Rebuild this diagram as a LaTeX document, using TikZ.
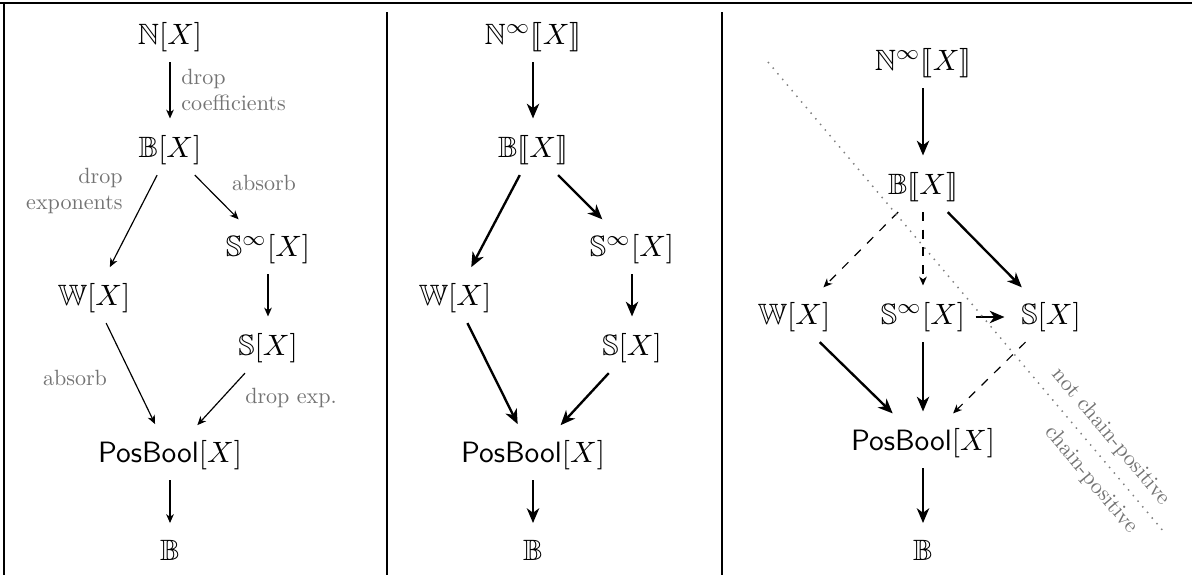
\documentclass[tikz,border=0pt]{standalone}
\usepackage{amssymb}
\usepackage{stmaryrd}
\usetikzlibrary{arrows.meta}

% one unit = one pixel of the finished image, y pointing down
\tikzset{
  x=0.34pt, y=-0.34pt,
  obj/.style={inner sep=3.33pt},
  lbl/.style={text=black!55, scale=0.75, inner sep=0pt},
  thinarr/.style={-{Stealth[length=3pt, width=2.6pt, inset=0.9pt]}, shorten >=2.2pt},
  boldarr/.style={-{Stealth[length=5pt, width=4.2pt, inset=1.5pt]}, thick, shorten >=2.2pt},
  dasharr/.style={-{Stealth[length=3pt, width=2.6pt, inset=0.9pt]}, dashed, shorten >=2.2pt},
  frame/.style={line width=0.4pt},
  border/.style={black!50, line width=0.5pt, dotted},
}

\begin{document}
\begin{tikzpicture}
\useasboundingbox (0,0) rectangle (1192,575);

% table rules
\draw[frame] (0,3) -- (1192,3);
\draw[frame] (4,3) -- (4,575);
\draw[frame] (387,12) -- (387,575);
\draw[frame] (722,12) -- (722,575);

% ---------- polynomials ----------
\node[obj] (lN)   at (170,37)  {$\mathbb{N}[X]$};
\node[obj] (lB)   at (170,150) {$\mathbb{B}[X]$};
\node[obj] (lSi)  at (268,249) {$\mathbb{S}^\infty[X]$};
\node[obj] (lW)   at (94,298)  {$\mathbb{W}[X]$};
\node[obj] (lS)   at (268,348) {$\mathbb{S}[X]$};
\node[obj] (lP)   at (170,455) {$\mathsf{PosBool}[X]$};
\node[obj] (lOne) at (170,550) {$\mathbb{B}$};

\draw[thinarr] (lN) -- (lB);
\draw[thinarr] (lB) -- (lW);
\draw[thinarr] (lB) -- (lSi);
\draw[thinarr] (lSi) -- (lS);
\draw[thinarr] (lW) -- (lP);
\draw[thinarr] (lS) -- (lP);
\draw[thinarr] (lP) -- (lOne);

\node[lbl, align=left, anchor=west]  (cDropCoef) at (181,90)  {drop\\coefficients};
\node[lbl, align=right, anchor=east] (cDropExp)  at (123,191) {drop\\exponents};
\node[lbl] (cAbsA) at (264,183) {absorb};
\node[lbl] (cAbsB) at (75,378)  {absorb};
\node[lbl] (cExp)  at (291,398) {drop exp.};

% ---------- power series ----------
\node[obj] (mN)   at (533,37)  {$\mathbb{N}^\infty\llbracket X\rrbracket$};
\node[obj] (mB)   at (533,150) {$\mathbb{B}\llbracket X\rrbracket$};
\node[obj] (mSi)  at (632,249) {$\mathbb{S}^\infty[X]$};
\node[obj] (mW)   at (455,298) {$\mathbb{W}[X]$};
\node[obj] (mS)   at (632,348) {$\mathbb{S}[X]$};
\node[obj] (mP)   at (533,455) {$\mathsf{PosBool}[X]$};
\node[obj] (mOne) at (533,550) {$\mathbb{B}$};

\draw[boldarr] (mN) -- (mB);
\draw[boldarr] (mB) -- (mW);
\draw[boldarr] (mB) -- (mSi);
\draw[boldarr] (mSi) -- (mS);
\draw[boldarr] (mW) -- (mP);
\draw[boldarr] (mS) -- (mP);
\draw[boldarr] (mP) -- (mOne);

% ---------- chain-positivity ----------
\node[obj] (rN)   at (923,63)  {$\mathbb{N}^\infty\llbracket X\rrbracket$};
\node[obj] (rB)   at (923,187) {$\mathbb{B}\llbracket X\rrbracket$};
\node[obj] (rW)   at (794,317) {$\mathbb{W}[X]$};
\node[obj] (rSi)  at (923,317) {$\mathbb{S}^\infty[X]$};
\node[obj] (rS)   at (1051,317) {$\mathbb{S}[X]$};
\node[obj] (rP)   at (923,443) {$\mathsf{PosBool}[X]$};
\node[obj] (rOne) at (923,550) {$\mathbb{B}$};

\draw[boldarr] (rN) -- (rB);
\draw[dasharr] (rB) -- (rW);
\draw[dasharr] (rB) -- (rSi);
\draw[boldarr] (rB) -- (rS);
\draw[boldarr] (rSi) -- (rS);
\draw[boldarr] (rW) -- (rP);
\draw[boldarr] (rSi) -- (rP);
\draw[dasharr] (rS) -- (rP);
\draw[boldarr] (rP) -- (rOne);

\coordinate (cutA) at (768,62);
\coordinate (cutB) at (1164,532);
\draw[border] (cutA) -- (cutB);
\node[lbl, rotate=-50] (cNot) at (1111,437) {not chain-positive};
\node[lbl, rotate=-50] (cYes) at (1091,480) {chain-positive};
\end{tikzpicture}
\end{document}
